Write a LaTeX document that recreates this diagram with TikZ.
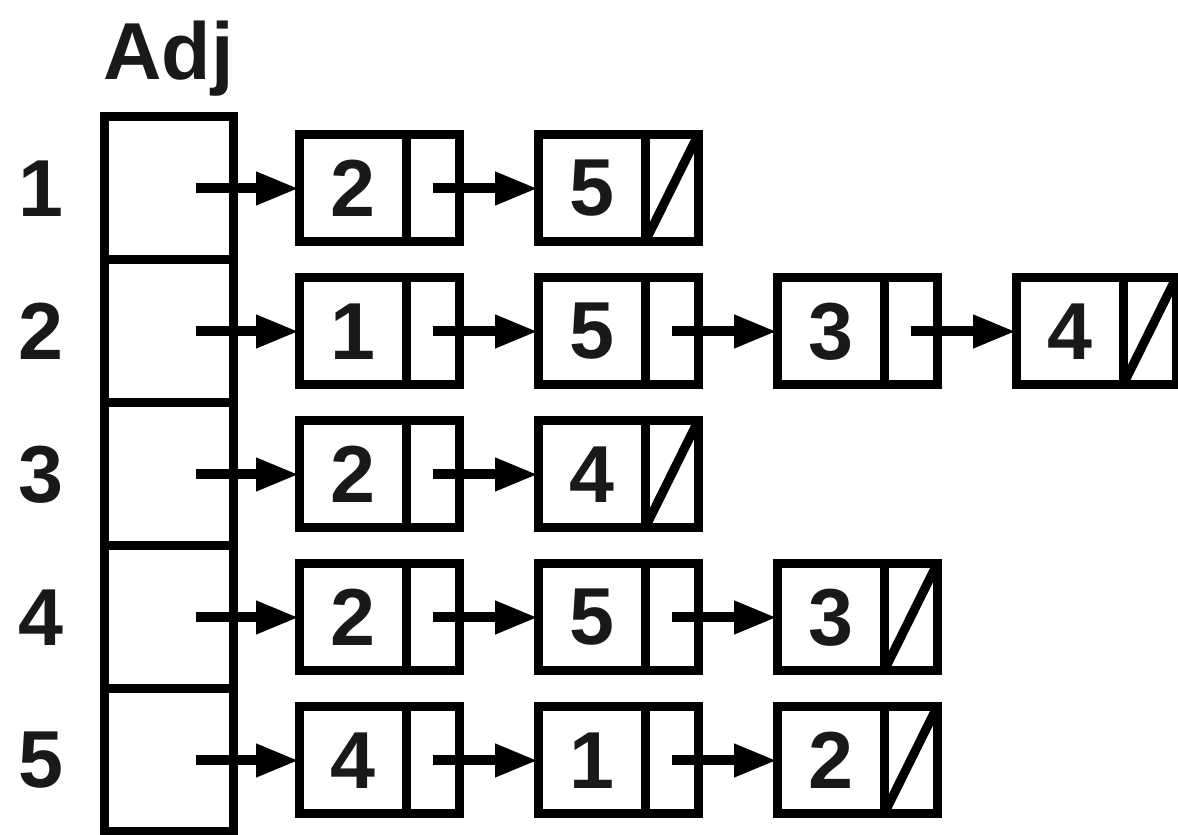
\documentclass[tikz,border=0pt]{standalone}
\usepackage{fontspec}
\setmainfont{Liberation Sans}
\usetikzlibrary{positioning,arrows.meta}

\tikzset{
  lbl/.style={font=\fontsize{23}{28}\selectfont\bfseries, inner sep=0pt, text=black!90},
  adjcell/.style={draw, line width=0.09cm, minimum width=1.29cm, minimum height=1.43cm, inner sep=0pt, outer sep=0pt},
  datacell/.style={draw, line width=0.09cm, minimum width=1.07cm, minimum height=1.07cm, inner sep=0pt, outer sep=0pt, lbl},
  ptrcell/.style={draw, line width=0.09cm, minimum width=0.53cm, minimum height=1.07cm, inner sep=0pt, outer sep=0pt},
  ptrarrow/.style={line width=0.1cm, -{Triangle[length=0.43cm,width=0.31cm]}},
  nullslash/.style={line width=0.09cm}
}

\begin{document}
\begin{tikzpicture}
	\useasboundingbox (0,0) rectangle (11.78,-8.35);
	% the Adj array, one cell per vertex
	\node[adjcell] (a1) at (1.685,-1.885) {};
	\node[adjcell, below=0pt of a1] (a2) {};
	\node[adjcell, below=0pt of a2] (a3) {};
	\node[adjcell, below=0pt of a3] (a4) {};
	\node[adjcell, below=0pt of a4] (a5) {};
	\node[lbl, above=0.2cm of a1] (adj) {Adj};
	% vertex numbers
	\node[lbl, left=0.4cm of a1] (v1) {1};
	\node[lbl, left=0.4cm of a2] (v2) {2};
	\node[lbl, left=0.4cm of a3] (v3) {3};
	\node[lbl, left=0.4cm of a4] (v4) {4};
	\node[lbl, left=0.4cm of a5] (v5) {5};
	% list of vertex 1
	\node[datacell, right=0.66cm of a1] (d11) {2};
	\node[ptrcell, right=0pt of d11] (p11) {};
	\node[datacell, right=0.79cm of p11] (d12) {5};
	\node[ptrcell, right=0pt of d12] (p12) {};
	% list of vertex 2
	\node[datacell, right=0.66cm of a2] (d21) {1};
	\node[ptrcell, right=0pt of d21] (p21) {};
	\node[datacell, right=0.79cm of p21] (d22) {5};
	\node[ptrcell, right=0pt of d22] (p22) {};
	\node[datacell, right=0.79cm of p22] (d23) {3};
	\node[ptrcell, right=0pt of d23] (p23) {};
	\node[datacell, right=0.79cm of p23] (d24) {4};
	\node[ptrcell, right=0pt of d24] (p24) {};
	% list of vertex 3
	\node[datacell, right=0.66cm of a3] (d31) {2};
	\node[ptrcell, right=0pt of d31] (p31) {};
	\node[datacell, right=0.79cm of p31] (d32) {4};
	\node[ptrcell, right=0pt of d32] (p32) {};
	% list of vertex 4
	\node[datacell, right=0.66cm of a4] (d41) {2};
	\node[ptrcell, right=0pt of d41] (p41) {};
	\node[datacell, right=0.79cm of p41] (d42) {5};
	\node[ptrcell, right=0pt of d42] (p42) {};
	\node[datacell, right=0.79cm of p42] (d43) {3};
	\node[ptrcell, right=0pt of d43] (p43) {};
	% list of vertex 5
	\node[datacell, right=0.66cm of a5] (d51) {4};
	\node[ptrcell, right=0pt of d51] (p51) {};
	\node[datacell, right=0.79cm of p51] (d52) {1};
	\node[ptrcell, right=0pt of d52] (p52) {};
	\node[datacell, right=0.79cm of p52] (d53) {2};
	\node[ptrcell, right=0pt of d53] (p53) {};
	% heads of the lists
	\draw[ptrarrow] ([xshift=0.27cm]a1.center) -- (d11.west);
	\draw[ptrarrow] ([xshift=0.27cm]a2.center) -- (d21.west);
	\draw[ptrarrow] ([xshift=0.27cm]a3.center) -- (d31.west);
	\draw[ptrarrow] ([xshift=0.27cm]a4.center) -- (d41.west);
	\draw[ptrarrow] ([xshift=0.27cm]a5.center) -- (d51.west);
	% next pointers
	\draw[ptrarrow] (p11.center) -- (d12.west);
	\draw[ptrarrow] (p21.center) -- (d22.west);
	\draw[ptrarrow] (p22.center) -- (d23.west);
	\draw[ptrarrow] (p23.center) -- (d24.west);
	\draw[ptrarrow] (p31.center) -- (d32.west);
	\draw[ptrarrow] (p41.center) -- (d42.west);
	\draw[ptrarrow] (p42.center) -- (d43.west);
	\draw[ptrarrow] (p51.center) -- (d52.west);
	\draw[ptrarrow] (p52.center) -- (d53.west);
	% nil pointers
	\draw[nullslash] (p12.south west) -- (p12.north east);
	\draw[nullslash] (p24.south west) -- (p24.north east);
	\draw[nullslash] (p32.south west) -- (p32.north east);
	\draw[nullslash] (p43.south west) -- (p43.north east);
	\draw[nullslash] (p53.south west) -- (p53.north east);
\end{tikzpicture}
\end{document}
